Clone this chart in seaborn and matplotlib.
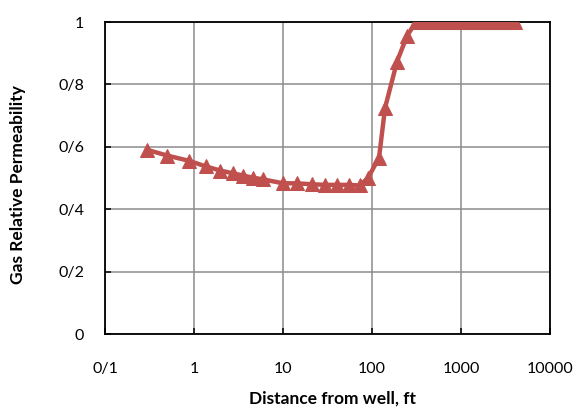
import matplotlib
matplotlib.use("Agg")
import matplotlib.pyplot as plt
import seaborn as sns
import pandas as pd

# Gas relative permeability versus distance from the well
distance_ft = [0.3, 0.5, 0.88, 1.36, 1.97, 2.74, 3.55, 4.57, 5.9,
               10, 14.3, 21, 30, 40, 55.6, 73, 90, 120, 140, 191, 247,
               312, 394, 489, 596, 720, 853, 1018, 1190, 1374, 1587,
               1820, 2118, 2455, 2865, 3390, 4045]
krg = [0.590, 0.572, 0.555, 0.537, 0.524, 0.515, 0.508, 0.501, 0.496,
       0.483, 0.483, 0.480, 0.478, 0.478, 0.478, 0.476, 0.500, 0.565,
       0.724, 0.873, 0.955,
       1.0, 1.0, 1.0, 1.0, 1.0, 1.0, 1.0, 1.0, 1.0, 1.0,
       1.0, 1.0, 1.0, 1.0, 1.0, 1.0]

x_ticks = [0.1, 1, 10, 100, 1000, 10000]
x_tick_labels = ["0/1", "1", "10", "100", "1000", "10000"]
y_ticks = [0, 0.2, 0.4, 0.6, 0.8, 1.0]
y_tick_labels = ["0", "0/2", "0/4", "0/6", "0/8", "1"]

df = pd.DataFrame({"distance": distance_ft, "krg": krg})

sns.set_theme(style="white")
plt.rcParams["font.family"] = ["Lato", "DejaVu Sans"]

fig = plt.figure(figsize=(5.76, 4.12), dpi=100)
ax = fig.add_axes([105 / 576, 78 / 412, 445 / 576, 312 / 412])
ax.set_xscale("log")

line_color = "#C0504D"
sns.lineplot(data=df, x="distance", y="krg", ax=ax, color=line_color,
             linewidth=3.2, marker="^", markersize=10,
             markeredgecolor=line_color, markerfacecolor=line_color,
             sort=False, zorder=3)

ax.set_xlim(0.1, 10000)
ax.set_ylim(0, 1)
ax.set_xticks(x_ticks, labels=x_tick_labels)
ax.set_yticks(y_ticks, labels=y_tick_labels)
ax.minorticks_off()

ax.grid(True, color="#8C8C8C", linewidth=1.1)
ax.set_axisbelow(True)
for side in ["left", "right", "top", "bottom"]:
    ax.spines[side].set_visible(True)
    ax.spines[side].set_color("black")
    ax.spines[side].set_linewidth(1.3)

ax.tick_params(axis="both", which="major", direction="in", length=4,
               width=1.1, color="black", labelsize=11.5, labelcolor="black",
               left=True, bottom=True)
ax.tick_params(axis="x", pad=20)
ax.tick_params(axis="y", pad=15)

ax.set_xlabel("Distance from well, ft", fontsize=12.5, fontweight="bold",
              color="black")
ax.set_ylabel("Gas Relative Permeability", fontsize=12.5, fontweight="bold",
              color="black")
ax.xaxis.set_label_coords(0.512, -0.18)
ax.yaxis.set_label_coords(-0.178, 0.478)

fig.savefig("out.png", dpi=100)
